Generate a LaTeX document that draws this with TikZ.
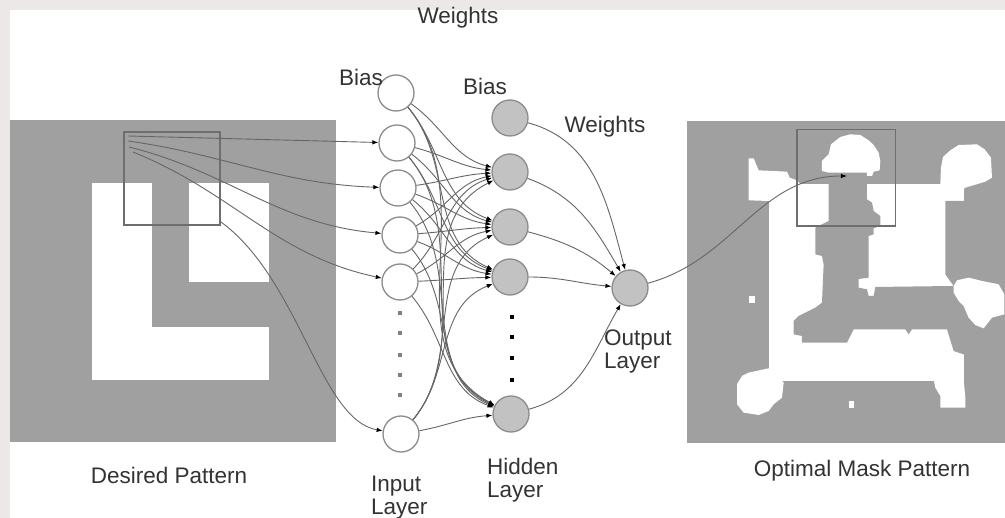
\documentclass[tikz,border=0pt]{standalone}
\usepackage{fontspec}
\setmainfont{Liberation Sans}
\usetikzlibrary{arrows.meta}
\definecolor{edgebg}{RGB}{236,232,231}
\definecolor{panel}{HTML}{A0A0A0}
\definecolor{winline}{HTML}{6E6E6E}
\definecolor{wire}{HTML}{666666}
\definecolor{ring}{HTML}{8C8C8C}
\definecolor{hfill}{HTML}{C2C2C2}
\definecolor{txt}{HTML}{333333}
\tikzset{
  inode/.style={circle, minimum size=36pt, inner sep=0pt, draw=ring, fill=white, line width=1.3pt},
  hnode/.style={circle, minimum size=36pt, inner sep=0pt, draw=ring, fill=hfill, line width=1.3pt},
  wire/.style={draw=wire, line width=0.9pt, -{Latex[length=6pt,width=4.5pt,color=black]}},
  lbl/.style={text=txt, font=\fontsize{22.5}{23}\selectfont, inner sep=0pt},
  dotmark/.style={fill=#1, minimum size=4pt, inner sep=0pt},
  win/.style={draw=winline, line width=1.3pt}
}
\begin{document}
\begin{tikzpicture}[x=1pt,y=-1pt]
\useasboundingbox (0,0) rectangle (1005,518);
\fill[edgebg] (0,0) rectangle (1005,518);
\fill[white] (10,10) rectangle (1005,518);

% ---- desired pattern ----
\fill[panel] (10,120) rectangle (336,442);
\fill[white] (92,183) rectangle (152,380);
\fill[white] (92,327) rectangle (269,380);
\fill[white] (189,183) rectangle (269,282);
\draw[win] (124,132) rectangle (220,225);
\coordinate (s1) at (128,136);
\coordinate (s2) at (128,141);
\coordinate (s3) at (129,147);
\coordinate (s4) at (133,152);
\coordinate (s5) at (221,222);

% ---- optimal mask pattern (drawn on a 3x grid) ----
\fill[panel] (687,121) rectangle (1005,443);
\begin{scope}[shift={(687,121)}, x=0.3333pt, y=-0.3333pt]
  % white body
  \fill[white] (245,190) rectangle (830,780);
  \fill[white] (185,112) -- (200,112) -- (215,148) -- (300,152) -- (308,170) -- (330,178) -- (345,195) -- (345,240) -- (245,240) -- (185,238) -- cycle;
  \fill[white] (150,790) -- (165,765) -- (185,755) -- (245,742) -- (265,760) -- (290,785) -- (285,830) -- (260,850) -- (245,870) -- (215,882) -- (170,875) -- (150,850) -- cycle;
  \fill[white] (740,775) -- (745,800) -- (760,825) -- (760,860) -- (835,860) -- (835,830) -- (830,775) -- cycle;
  % grey stem, lower band and right field
  \fill[panel] (425,155) -- (540,155) -- (540,235) -- (555,245) -- (560,270) -- (580,285) -- (580,315) -- (560,322) -- (560,340) -- (545,345)
    -- (545,470) -- (515,474) -- (515,500) -- (540,505) -- (545,525) -- (560,525) -- (565,498) -- (800,495) -- (775,460) -- (775,240)
    -- (954,240) -- (954,700) -- (830,700) -- (800,690) -- (780,625) -- (675,625) -- (665,640) -- (655,625) -- (500,625) -- (490,645)
    -- (480,665) -- (345,665) -- (345,645) -- (320,640) -- (320,600) -- (335,585) -- (355,575) -- (385,560) -- (405,545) -- (410,430)
    -- (405,405) -- (385,400) -- (385,320) -- (425,300) -- cycle;
  % white blobs on top
  \fill[white] (405,150) -- (405,120) -- (425,100) -- (432,70) -- (460,48) -- (490,40) -- (520,42) -- (545,58) -- (560,72) -- (575,95) -- (580,120) -- (578,148) -- (560,152) -- (555,165) -- (540,165) -- (540,155) -- (425,155) -- cycle;
  \fill[white] (760,190) -- (762,140) -- (768,108) -- (790,88) -- (815,72) -- (870,70) -- (893,85) -- (912,110) -- (915,170) -- (895,182) -- (862,192) -- (835,200) -- (815,220) -- (790,235) -- (775,240) -- (775,190) -- cycle;
  \fill[white] (800,495) -- (810,478) -- (845,470) -- (885,480) -- (935,490) -- (952,520) -- (952,580) -- (915,590) -- (890,622) -- (865,612) -- (845,590) -- (830,555) -- (815,540) -- (800,515) -- cycle;
  \fill[white] (185,525) rectangle (205,545);
  \fill[white] (485,840) rectangle (500,860);
  \draw[win] (330,25) rectangle (625,315);
  \coordinate (t) at (480,165);
\end{scope}

% ---- input layer ----
\node[inode] (i0) at (396,93) {};
\node[inode] (i1) at (397,143) {};
\node[inode] (i2) at (398,188) {};
\node[inode] (i3) at (400,235) {};
\node[inode] (i4) at (400,282) {};
\node[inode] (i5) at (401,434) {};
\foreach \y in {313,333,355,375,395} \node[dotmark=gray] at (400,\y) {};

% ---- hidden layer ----
\node[hnode] (h0) at (510,118) {};
\node[hnode] (h1) at (510,172) {};
\node[hnode] (h2) at (510,227) {};
\node[hnode] (h3) at (510,277) {};
\node[hnode] (h4) at (511,414) {};
\foreach \y in {317,337,358,380} \node[dotmark=black, minimum size=3.5pt] at (512,\y) {};

% ---- output layer ----
\node[hnode] (o) at (630,288) {};

% ---- pattern window to input layer ----
\draw[wire] (s1) -- (i1);
\draw[wire] (s2) to[out=-8,in=178] (i2);
\draw[wire] (s3) to[out=-14,in=175] (i3);
\draw[wire] (s4) to[out=-22,in=168] (i4);
\draw[wire] (s5) .. controls (300,280) and (320,420) .. (i5);

% ---- input layer to hidden layer: leave steeply, arrive flatter ----
\foreach \i/\yi in {0/93,1/143,2/188,3/235,4/282,5/434}
  \foreach \j/\yh in {1/172,2/227,3/277,4/414} {
    \pgfmathsetmacro\dir{-atan2(\yh-\yi,110)}
    \pgfmathsetmacro\aout{max(-50,min(50,\dir))}
    \pgfmathsetmacro\ain{180+0.4*\dir}
    \draw[wire] (i\i) to[out=\aout,in=\ain] (h\j);
  }

% ---- hidden layer to output ----
\draw[wire] (h0) to[out=-15,in=105] (o);
\draw[wire] (h1) to[out=-20,in=120] (o);
\draw[wire] (h2) to[out=-15,in=140] (o);
\draw[wire] (h3) to[out=0,in=175] (o);
\draw[wire] (h4) to[out=15,in=240] (o);

% ---- output to mask window ----
\draw[wire] (o) to[out=15,in=180] (t);

% ---- labels ----
\node[lbl] at (458,18) {Weights};
\node[lbl] at (361,77) {Bias};
\node[lbl] at (485,86) {Bias};
\node[lbl] at (605,127) {Weights};
\node[lbl, align=left, anchor=north west] at (604,330) {Output\\Layer};
\node[lbl] at (169,475) {Desired Pattern};
\node[lbl, align=left, anchor=north west] at (371,476) {Input\\Layer};
\node[lbl, align=left, anchor=north west] at (487,458) {Hidden\\Layer};
\node[lbl] at (862,471) {Optimal Mask Pattern};
\end{tikzpicture}
\end{document}
